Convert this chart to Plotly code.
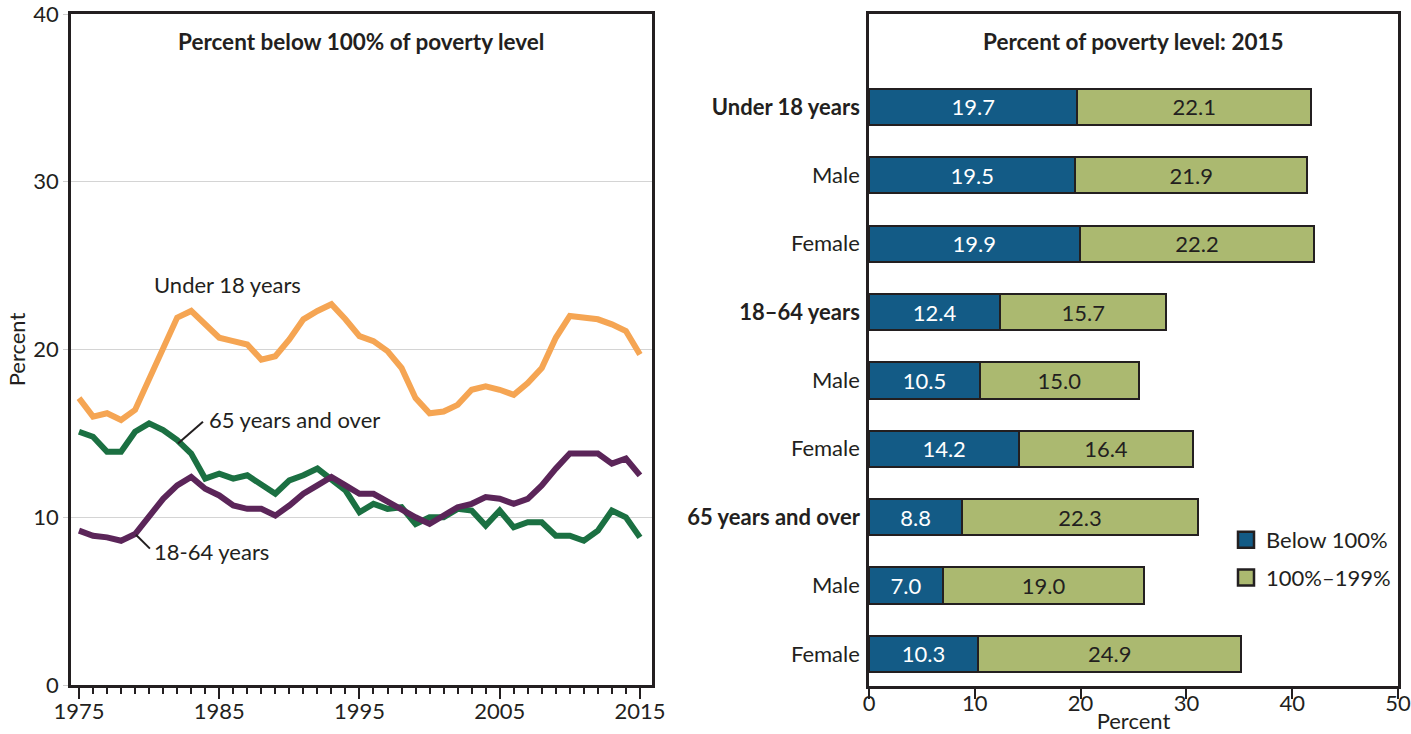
import plotly.graph_objects as go

# ---------------- data ----------------
years = list(range(1975, 2016))
under18 = [17.1, 16.0, 16.2, 15.8, 16.4, 18.3, 20.0, 21.9, 22.3, 21.5, 20.7,
           20.5, 20.3, 19.4, 19.6, 20.6, 21.8, 22.3, 22.7, 21.8, 20.8,
           20.5, 19.9, 18.9, 17.1, 16.2, 16.3, 16.7, 17.6, 17.8, 17.6,
           17.3, 18.0, 18.9, 20.7, 22.0, 21.9, 21.8, 21.5, 21.1, 19.7]
age18_64 = [9.2, 8.9, 8.8, 8.6, 9.0, 10.1, 11.1, 11.9, 12.4, 11.7, 11.3,
            10.7, 10.5, 10.5, 10.1, 10.7, 11.4, 11.9, 12.4, 11.9, 11.4,
            11.4, 10.9, 10.4, 10.0, 9.6, 10.1, 10.6, 10.8, 11.2, 11.1,
            10.8, 11.1, 11.9, 12.9, 13.8, 13.8, 13.8, 13.2, 13.5, 12.5]
age65 = [15.1, 14.8, 13.9, 13.9, 15.1, 15.6, 15.2, 14.6, 13.8, 12.3, 12.6,
         12.3, 12.5, 12.0, 11.4, 12.2, 12.5, 12.9, 12.2, 11.6, 10.3,
         10.8, 10.5, 10.6, 9.6, 10.0, 10.0, 10.5, 10.4, 9.5, 10.4,
         9.4, 9.7, 9.7, 8.9, 8.9, 8.6, 9.2, 10.4, 10.0, 8.8]
year_ticks = [1975, 1985, 1995, 2005, 2015]
pct_line_ticks = [0, 10, 20, 30, 40]

bar_labels = ["Under 18 years", "Male", "Female", "18–64 years", "Male",
              "Female", "65 years and over", "Male", "Female"]
bar_bold = [True, False, False, True, False, False, True, False, False]
below100 = [19.7, 19.5, 19.9, 12.4, 10.5, 14.2, 8.8, 7.0, 10.3]
near_poor = [22.1, 21.9, 22.2, 15.7, 15.0, 16.4, 22.3, 19.0, 24.9]
pct_ticks = [0, 10, 20, 30, 40, 50]

# ---------------- styles ----------------
FONT = "Lato"
INK = "#231f20"
C_U18 = "#f5a553"
C_1864 = "#5b2559"
C_65 = "#1b7042"
C_BLUE = "#135b86"
C_GREEN = "#abb970"
FS = 22

W, H = 1411, 734
def px_x(p):
    return p / W
def px_y(p):
    return 1 - p / H

fig = go.Figure()

# ---------------- left: line chart ----------------
for name, vals, col in [("Under 18 years", under18, C_U18),
                        ("65 years and over", age65, C_65),
                        ("18-64 years", age18_64, C_1864)]:
    fig.add_trace(go.Scatter(x=years, y=vals, mode="lines", name=name,
                             line=dict(color=col, width=6),
                             showlegend=False, xaxis="x", yaxis="y"))

# ---------------- right: stacked bars ----------------
ypos = list(range(len(bar_labels)))
fig.add_trace(go.Bar(x=below100, y=ypos, orientation="h", name="Below 100%",
                     marker=dict(color=C_BLUE, line=dict(color=INK, width=2)),
                     width=0.53, text=[f"{v:.1f}" for v in below100],
                     textposition="inside", insidetextanchor="middle",
                     textfont=dict(color="white", size=FS, family=FONT),
                     showlegend=False, xaxis="x2", yaxis="y2"))
fig.add_trace(go.Bar(x=near_poor, y=ypos, orientation="h", name="100%–199%",
                     marker=dict(color=C_GREEN, line=dict(color=INK, width=2)),
                     width=0.53, text=[f"{v:.1f}" for v in near_poor],
                     textposition="inside", insidetextanchor="middle",
                     textfont=dict(color=INK, size=FS, family=FONT),
                     showlegend=False, xaxis="x2", yaxis="y2"))

# legend entries (square swatches)
for name, col, grp in [("Below 100%", C_BLUE, "a"), ("100%–199%", C_GREEN, "b")]:
    fig.add_trace(go.Scatter(x=[None], y=[None], mode="markers", name=name,
                             legendgroup=grp,
                             marker=dict(symbol="square", size=24, color=col,
                                         line=dict(color=INK, width=2.5)),
                             xaxis="x2", yaxis="y2", showlegend=True))

ticktext = [f"<b>{t}</b>" if b else t for t, b in zip(bar_labels, bar_bold)]

axis_common = dict(showline=True, linecolor=INK, linewidth=2.5, mirror=True,
                   zeroline=False, automargin=False, ticklabeloverflow="allow",
                   tickfont=dict(size=FS, family=FONT, color=INK))

fig.update_layout(
    width=W, height=H,
    margin=dict(l=0, r=0, t=0, b=0, autoexpand=False),
    paper_bgcolor="white", plot_bgcolor="white",
    font=dict(family=FONT, color=INK, size=FS),
    barmode="stack",
    xaxis=dict(domain=[px_x(71), px_x(652)], range=[1974.43, 2015.86],
               tickvals=year_ticks, ticks="outside", ticklen=11, tickwidth=2,
               tickcolor=INK, showgrid=False, ticklabelstandoff=-6,
               minor=dict(dtick=1, tick0=1975, ticks="outside", ticklen=6,
                          tickwidth=2, tickcolor=INK, showgrid=False),
               anchor="y", **axis_common),
    yaxis=dict(domain=[px_y(685), px_y(14)], range=[0, 40],
               tickvals=pct_line_ticks,
               ticks="outside", ticklen=5, tickcolor="#cfcfcf",
               showgrid=True, gridcolor="#d4d4d4", gridwidth=1,
               title=dict(text="Percent", font=dict(size=FS, family=FONT, color=INK),
                          standoff=2),
               anchor="x", **axis_common),
    xaxis2=dict(domain=[px_x(869), px_x(1398)], range=[0, 50],
                tickvals=pct_ticks, ticks="outside", ticklen=10, tickwidth=2,
                tickcolor=INK, showgrid=False, ticklabelstandoff=-14,
                title=dict(text="Percent", font=dict(size=FS, family=FONT, color=INK),
                           standoff=6),
                anchor="y2", **axis_common),
    yaxis2=dict(domain=[px_y(686), px_y(14)], range=[8.47, -1.36],
                tickvals=ypos, ticktext=ticktext, ticks="outside", ticklen=2,
                tickcolor="rgba(0,0,0,0)", showgrid=False,
                anchor="x2", **axis_common),
    legend=dict(x=px_x(1226), y=px_y(519), xanchor="left", yanchor="top",
                font=dict(size=FS, family=FONT, color=INK),
                bgcolor="rgba(0,0,0,0)", tracegroupgap=6, itemwidth=30),
)

# titles
fig.add_annotation(text="<b>Percent below 100% of poverty level</b>",
                   xref="paper", yref="paper", x=px_x(361), y=px_y(42),
                   xanchor="center", yanchor="middle",
                   showarrow=False, font=dict(size=22.5, family=FONT, color=INK))
fig.add_annotation(text="<b>Percent of poverty level: 2015</b>",
                   xref="paper", yref="paper", x=px_x(1133), y=px_y(42),
                   xanchor="center", yanchor="middle",
                   showarrow=False, font=dict(size=22.5, family=FONT, color=INK))

# line labels (data coordinates)
fig.add_annotation(text="Under 18 years", xref="x", yref="y", x=1980.2, y=23.9,
                   xanchor="left", showarrow=False,
                   font=dict(size=FS, family=FONT, color=INK))
fig.add_annotation(text="65 years and over", xref="x", yref="y", x=1984.1, y=15.85,
                   xanchor="left", showarrow=False,
                   font=dict(size=FS, family=FONT, color=INK))
fig.add_annotation(text="18-64 years", xref="x", yref="y", x=1980.2, y=7.95,
                   xanchor="left", showarrow=False,
                   font=dict(size=FS, family=FONT, color=INK))
fig.add_shape(type="line", xref="x", yref="y", x0=1982.06, y0=14.4,
              x1=1983.84, y1=15.7, line=dict(color=INK, width=2))
fig.add_shape(type="line", xref="x", yref="y", x0=1979.06, y0=8.96,
              x1=1980.06, y1=8.13, line=dict(color=INK, width=2))

fig.write_html("out.html", config={"displayModeBar": False},
               post_script="document.body.style.margin='0';")
